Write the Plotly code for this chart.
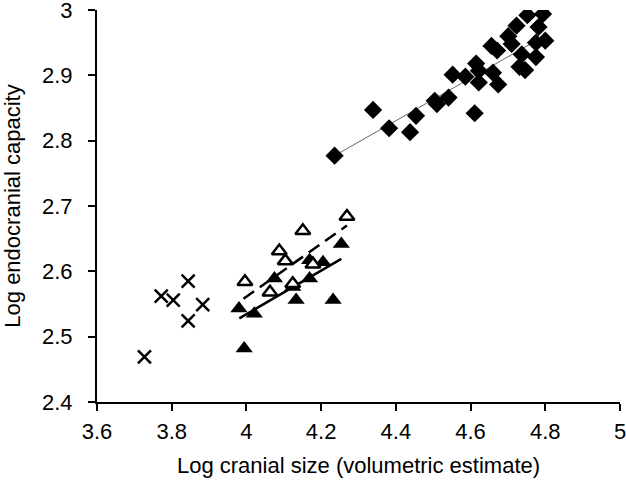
import plotly.graph_objects as go

# Diamonds (large-brained group)
dia_x = [4.236, 4.339, 4.382, 4.438, 4.454, 4.504, 4.510, 4.541, 4.611, 4.552, 4.586, 4.615, 4.622,
         4.622, 4.660, 4.674, 4.656, 4.671, 4.701, 4.710, 4.723, 4.752, 4.794, 4.782, 4.775, 4.800,
         4.737, 4.775, 4.731, 4.746]
dia_y = [2.777, 2.847, 2.819, 2.813, 2.838, 2.861, 2.856, 2.866, 2.842, 2.901, 2.898, 2.918, 2.907,
         2.889, 2.904, 2.886, 2.945, 2.938, 2.960, 2.948, 2.976, 2.992, 2.994, 2.974, 2.950, 2.953,
         2.932, 2.928, 2.913, 2.908]
dia_fit_x = [4.236, 4.800]
dia_fit_y = [2.777, 2.961]

# Filled triangles
ftri_x = [4.254, 4.169, 4.205, 4.075, 4.169, 4.124, 4.133, 4.232, 3.980, 4.021, 3.994]
ftri_y = [2.642, 2.617, 2.614, 2.589, 2.589, 2.576, 2.556, 2.556, 2.543, 2.535, 2.482]
ftri_fit_x = [3.981, 4.254]
ftri_fit_y = [2.528, 2.619]

# Open triangles
otri_x = [4.151, 4.088, 4.104, 4.178, 3.996, 4.063, 4.124, 4.269]
otri_y = [2.662, 2.631, 2.616, 2.611, 2.584, 2.568, 2.581, 2.684]
otri_fit_x = [3.992, 4.269]
otri_fit_y = [2.558, 2.670]

# Crosses
cross_x = [3.727, 3.772, 3.804, 3.844, 3.844, 3.883]
cross_y = [2.469, 2.562, 2.556, 2.585, 2.524, 2.549]

x_ticks = [3.6, 3.8, 4.0, 4.2, 4.4, 4.6, 4.8, 5.0]
x_labels = ["3.6", "3.8", "4", "4.2", "4.4", "4.6", "4.8", "5"]
y_ticks = [2.4, 2.5, 2.6, 2.7, 2.8, 2.9, 3.0]
y_labels = ["2.4", "2.5", "2.6", "2.7", "2.8", "2.9", "3"]

fig = go.Figure()
fig.add_trace(go.Scatter(x=dia_fit_x, y=dia_fit_y, mode="lines",
                         line=dict(color="#666666", width=1), hoverinfo="skip"))
fig.add_trace(go.Scatter(x=ftri_fit_x, y=ftri_fit_y, mode="lines",
                         line=dict(color="black", width=2.5), hoverinfo="skip"))
fig.add_trace(go.Scatter(x=otri_fit_x, y=otri_fit_y, mode="lines",
                         line=dict(color="black", width=2.5, dash="13px,7px"), hoverinfo="skip"))
fig.add_trace(go.Scatter(x=dia_x, y=dia_y, mode="markers",
                         marker=dict(symbol="diamond", size=14, color="black")))
fig.add_trace(go.Scatter(x=ftri_x, y=ftri_y, mode="markers",
                         marker=dict(symbol="triangle-up", size=15, color="black")))
fig.add_trace(go.Scatter(x=otri_x, y=otri_y, mode="markers",
                         marker=dict(symbol="triangle-up", size=13, color="white",
                                     line=dict(color="black", width=2.5))))
fig.add_trace(go.Scatter(x=cross_x, y=cross_y, mode="markers",
                         marker=dict(symbol="x-thin", size=13,
                                     line=dict(color="black", width=2.5))))

font = "Liberation Sans, Arial, sans-serif"
fig.update_layout(
    width=626, height=482,
    margin=dict(l=97, r=6, t=10, b=80),
    paper_bgcolor="white", plot_bgcolor="white",
    showlegend=False,
    font=dict(family=font, size=22, color="black"),
    xaxis=dict(range=[3.6, 5.0], tickvals=x_ticks, ticktext=x_labels, automargin=False,
               showgrid=False, zeroline=False, showline=True, linecolor="black", linewidth=2,
               ticks="outside", ticklen=7, tickwidth=2, tickcolor="black",
               ticklabelstandoff=2, ticklabeloverflow="allow",
               title=dict(text="Log cranial size (volumetric estimate)", standoff=14,
                          font=dict(size=22))),
    yaxis=dict(range=[2.4, 3.0], tickvals=y_ticks, ticktext=y_labels, automargin=False,
               showgrid=False, zeroline=False, showline=True, linecolor="black", linewidth=2,
               ticks="outside", ticklen=7, tickwidth=2, tickcolor="black",
               ticklabelstandoff=11, ticklabeloverflow="allow",
               title=dict(text="Log endocranial capacity", standoff=15, font=dict(size=22))),
)
fig.write_html("out.html", config={"displayModeBar": False},
               post_script="document.body.style.margin='0';document.body.style.overflow='hidden';")
